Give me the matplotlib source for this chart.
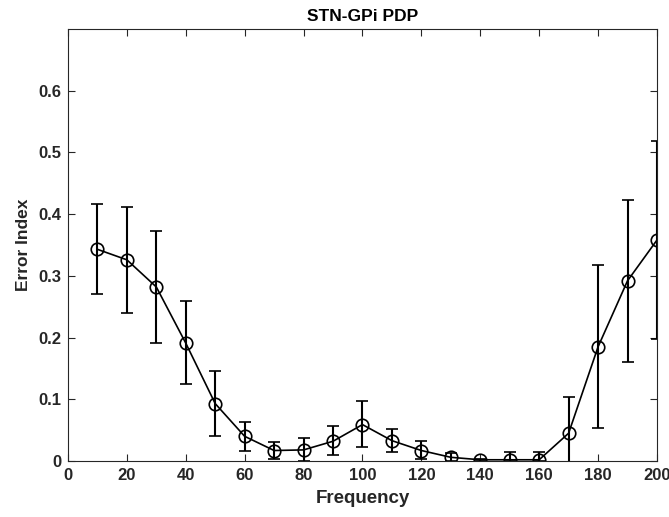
import matplotlib
matplotlib.use("Agg")
import matplotlib.pyplot as plt
import numpy as np

plt.rcParams['font.family'] = ['Liberation Sans', 'DejaVu Sans']

freq = [10, 20, 30, 40, 50, 60, 70, 80, 90, 100, 110, 120, 130, 140, 150, 160, 170, 180, 190, 200]
err_index = [0.343, 0.326, 0.282, 0.191, 0.093, 0.040, 0.017, 0.018, 0.032, 0.059,
             0.033, 0.017, 0.006, 0.002, 0.002, 0.002, 0.045, 0.185, 0.292, 0.358]
err_low = [0.271, 0.240, 0.191, 0.124, 0.040, 0.016, 0.003, 0.000, 0.009, 0.022,
           0.014, 0.003, 0.000, 0.000, 0.000, 0.000, -0.013, 0.053, 0.161, 0.197]
err_high = [0.416, 0.411, 0.372, 0.259, 0.146, 0.064, 0.031, 0.037, 0.056, 0.097,
            0.052, 0.033, 0.013, 0.004, 0.014, 0.014, 0.104, 0.318, 0.423, 0.519]
xticks = [0, 20, 40, 60, 80, 100, 120, 140, 160, 180, 200]
yticks = [0, 0.1, 0.2, 0.3, 0.4, 0.5, 0.6]

m = np.array(err_index)
lo = m - np.array(err_low)
hi = np.array(err_high) - m

fig = plt.figure(figsize=(6.69, 5.17), dpi=100)
ax = fig.add_axes([0.1016, 0.1083, 0.8804, 0.8356])
ax.errorbar(freq, err_index, yerr=[lo, hi], color='black', lw=1.2, elinewidth=1.5,
            capsize=4, capthick=1.5, marker='o', ms=9, mfc='none', mec='black', mew=1.2,
            clip_on=True)
ax.set_xlim(0, 200)
ax.set_ylim(0, 0.7)
ax.set_xticks(xticks)
ax.set_yticks(yticks)
ax.set_xticklabels([str(t) for t in xticks])
ax.set_yticklabels(['0', '0.1', '0.2', '0.3', '0.4', '0.5', '0.6'])
ax.tick_params(direction='in', length=5, width=0.8, colors='#262626', labelsize=12,
               top=True, right=True, pad=5)
for lab in ax.get_xticklabels() + ax.get_yticklabels():
    lab.set_fontweight('bold')
for s in ax.spines.values():
    s.set_color('#262626')
    s.set_linewidth(0.8)
ax.set_xlabel('Frequency', fontsize=13.5, fontweight='bold', color='#262626', labelpad=5)
ax.set_ylabel('Error Index', fontsize=12.5, fontweight='bold', color='#262626', labelpad=5)
ax.set_title('STN-GPi PDP', fontsize=12.5, fontweight='bold', color='black', pad=6)
fig.savefig('out.png', dpi=100)
